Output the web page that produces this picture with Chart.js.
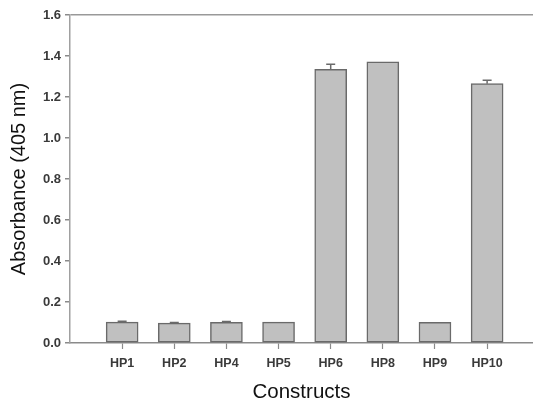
<!DOCTYPE html>
<html>
<head>
<meta charset="utf-8">
<script src="https://cdn.jsdelivr.net/npm/chart.js@4/dist/chart.umd.min.js"></script>
<style>
  html, body { margin: 0; padding: 0; background: #ffffff; }
  #wrap { width: 533px; height: 406px; position: relative; }
</style>
</head>
<body>
<div id="wrap"><canvas id="chart"></canvas></div>
<script>
// Absorbance at 405 nm for each construct, with standard error caps
const constructs = ['HP1', 'HP2', 'HP4', 'HP5', 'HP6', 'HP8', 'HP9', 'HP10'];
const absorbance = [0.102, 0.097, 0.101, 0.102, 1.335, 1.372, 0.101, 1.265];
const errors     = [0.004, 0.003, 0.004, 0.000, 0.025, 0.000, 0.000, 0.017];
const yTicks     = [0.0, 0.2, 0.4, 0.6, 0.8, 1.0, 1.2, 1.4, 1.6];

const FONT = "'Liberation Sans', Arial, sans-serif";

// Draws the upper error whisker and cap above each bar
const errorCaps = {
  id: 'errorCaps',
  afterDatasetsDraw(chart) {
    const meta = chart.getDatasetMeta(0);
    const ys = chart.scales.y;
    const ctx = chart.ctx;
    ctx.save();
    ctx.strokeStyle = '#6a6a6a';
    ctx.lineWidth = 1.5;
    meta.data.forEach((bar, i) => {
      const e = errors[i];
      if (!e) return;
      const yTop = ys.getPixelForValue(absorbance[i] + e);
      const yBar = ys.getPixelForValue(absorbance[i]);
      ctx.beginPath();
      ctx.moveTo(bar.x, yBar);
      ctx.lineTo(bar.x, yTop);
      ctx.moveTo(bar.x - 4.5, yTop);
      ctx.lineTo(bar.x + 4.5, yTop);
      ctx.stroke();
    });
    ctx.restore();
  }
};

new Chart(document.getElementById('chart'), {
  type: 'bar',
  data: {
    datasets: [{
      data: absorbance.map((v, i) => ({ x: i, y: v })),
      backgroundColor: '#c0c0c0',
      borderColor: '#6a6a6a',
      borderWidth: 1.5,
      borderSkipped: false,
      barThickness: 32
    }]
  },
  options: {
    responsive: true,
    maintainAspectRatio: false,
    animation: false,
    layout: { padding: { top: 15, right: 0, left: 0, bottom: 0 } },
    plugins: { legend: { display: false }, tooltip: { enabled: false } },
    scales: {
      x: {
        type: 'linear',
        offset: false,
        min: -1,
        max: 7.88,
        afterBuildTicks(scale) {
          scale.ticks = constructs.map((_, i) => ({ value: i }));
        },
        afterFit(scale) { scale.height = 63; },
        grid: {
          display: true,
          offset: false,
          drawOnChartArea: false,
          tickLength: 6,
          tickColor: '#8a8a8a',
          tickWidth: 1.2
        },
        border: { display: true, color: '#8a8a8a', width: 1.5 },
        ticks: {
          autoSkip: false,
          maxRotation: 0,
          padding: 7,
          color: '#3a3a3a',
          font: { family: FONT, size: 12.5, weight: 'bold' },
          callback: (v) => constructs[v] ?? ''
        },
        title: {
          display: true,
          text: 'Constructs',
          color: '#111111',
          font: { family: FONT, size: 20.5 },
          padding: { top: 0, bottom: 1 }
        }
      },
      y: {
        min: 0,
        max: 1.6,
        afterBuildTicks(scale) {
          scale.ticks = yTicks.map(v => ({ value: v }));
        },
        afterFit(scale) { scale.width = 70; },
        grid: {
          display: true,
          drawOnChartArea: true,
          tickLength: 5,
          tickColor: '#8a8a8a',
          lineWidth: 1.5,
          color: (ctx) => (ctx.tick && Math.abs(ctx.tick.value - 1.6) < 1e-9) ? '#999999' : 'rgba(0,0,0,0)'
        },
        border: { display: true, color: '#a0a0a0', width: 1.5 },
        ticks: {
          padding: 4,
          color: '#3a3a3a',
          font: { family: FONT, size: 13, weight: 'bold' },
          callback: (v) => Number(v).toFixed(1)
        },
        title: {
          display: true,
          text: 'Absorbance (405 nm)',
          color: '#111111',
          font: { family: FONT, size: 20 },
          padding: { top: 7, bottom: 0 }
        }
      }
    }
  },
  plugins: [errorCaps]
});
</script>
</body>
</html>
